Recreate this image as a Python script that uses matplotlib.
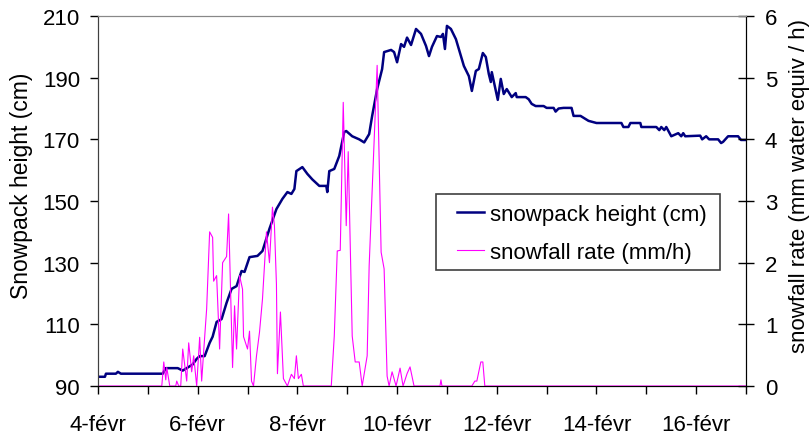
import numpy as np
import matplotlib.pyplot as plt
from matplotlib.patches import Rectangle

plt.rcParams['font.family'] = ['Liberation Sans', 'DejaVu Sans']

# time in days after 4 Feb 00:00
snow_day = [0.00, 0.14, 0.16, 0.36, 0.40, 0.46, 1.30, 1.36, 1.60, 1.70, 1.80, 1.90,
            1.98, 2.04, 2.14, 2.24, 2.30, 2.38, 2.48, 2.58, 2.68, 2.78, 2.88, 2.94,
            3.04, 3.20, 3.30, 3.44, 3.58, 3.70, 3.80, 3.88, 3.94, 3.98, 4.10, 4.20,
            4.30, 4.44, 4.58, 4.60, 4.64, 4.74, 4.84, 4.94, 4.98, 5.10, 5.24, 5.34,
            5.44, 5.50, 5.60, 5.70, 5.74, 5.88, 5.94, 6.00, 6.08, 6.14, 6.20, 6.28,
            6.38, 6.48, 6.58, 6.64, 6.70, 6.80, 6.88, 6.92, 6.96, 7.00, 7.08, 7.18,
            7.34, 7.44, 7.50, 7.58, 7.64, 7.72, 7.78, 7.84, 7.88, 7.90, 7.98, 8.02,
            8.08, 8.14, 8.20, 8.30, 8.38, 8.40, 8.58, 8.64, 8.70, 8.78, 8.94, 9.00,
            9.14, 9.18, 9.24, 9.34, 9.50, 9.54, 9.68, 9.84, 10.00, 10.50, 10.54, 10.64,
            10.68, 10.88, 10.90, 11.20, 11.26, 11.30, 11.36, 11.40, 11.50, 11.64, 11.70, 11.74,
            11.78, 12.08, 12.12, 12.20, 12.26, 12.44, 12.50, 12.54, 12.64, 12.84, 12.90, 12.98]
snow_cm = [93, 93, 94, 94, 94.6, 94, 94, 95.8, 95.8, 95, 96, 97,
           98.8, 99.7, 99.7, 104, 106, 110.8, 111.7, 117, 121.5, 122.4, 127.3, 127,
           131.8, 132.2, 133.8, 141, 147.4, 150.7, 152.9, 152.3, 153.9, 159.7, 161, 158.8,
           157, 154.9, 154.9, 152.9, 159.7, 160.4, 164.6, 172.4, 172.7, 171, 170, 169,
           171.7, 177.6, 186.3, 192.8, 198.3, 199, 198.3, 195, 200.9, 200, 203, 200.6,
           205.8, 204.2, 200.3, 197, 200, 203.5, 203.2, 204.2, 199.3, 206.8, 205.8, 202.5,
           193.8, 190.5, 185.7, 192.2, 192.8, 198, 196.7, 191.2, 188.6, 191.8, 185.7, 182.8,
           189.6, 184.7, 186.3, 183.7, 185, 183.7, 183.7, 183, 181.5, 180.8, 180.8, 180.2,
           180.2, 179, 180, 180.2, 180.2, 177.6, 177.6, 176, 175.3, 175.3, 174, 174,
           175.3, 175.3, 174, 174, 173, 174, 173, 174, 171, 172, 171, 172,
           171, 171.2, 170, 171, 170, 170, 168.8, 169.2, 171, 171, 169.8, 169.8]

rate_day = [0.00, 1.28, 1.32, 1.36, 1.38, 1.42, 1.44, 1.56, 1.58, 1.62, 1.66, 1.70,
            1.78, 1.82, 1.88, 1.92, 1.98, 2.04, 2.08, 2.14, 2.18, 2.24, 2.30, 2.32,
            2.38, 2.44, 2.50, 2.58, 2.62, 2.70, 2.74, 2.78, 2.84, 2.90, 2.92, 3.00,
            3.04, 3.08, 3.12, 3.18, 3.24, 3.30, 3.38, 3.44, 3.50, 3.54, 3.58, 3.60,
            3.66, 3.72, 3.80, 3.88, 3.94, 3.98, 4.02, 4.08, 4.12, 4.68, 4.74, 4.80,
            4.86, 4.92, 4.98, 5.02, 5.10, 5.16, 5.24, 5.30, 5.40, 5.44, 5.60, 5.68,
            5.74, 5.80, 5.84, 5.90, 5.98, 6.06, 6.12, 6.20, 6.26, 6.34, 6.86, 6.88,
            6.90, 7.50, 7.56, 7.60, 7.68, 7.72, 7.76, 13.00]
rate_mm = [0, 0, 0.39, 0.1, 0.3, 0.1, 0, 0, 0.08, 0, 0, 0.6,
           0.08, 0.7, 0.23, 0.49, 0, 0.79, 0.08, 0.79, 1.25, 2.5, 2.41, 1.7,
           1.79, 0.6, 2.0, 2.1, 2.79, 0.3, 1.3, 0.6, 1.79, 1.57, 0.8, 0.6,
           0.89, 0.08, 0, 0.49, 0.87, 1.41, 2.5, 2.0, 2.9, 2.6, 1.65, 0.2,
           1.2, 0.12, 0, 0.19, 0.12, 0.49, 0.12, 0.19, 0, 0, 0.81, 2.19,
           2.2, 4.6, 2.6, 3.8, 0.81, 0.39, 0.39, 0, 0.49, 1.95, 5.2, 2.17,
           1.9, 0.16, 0, 0.23, 0, 0.29, 0, 0.2, 0.31, 0, 0, 0.1,
           0, 0, 0.08, 0.08, 0.39, 0.39, 0, 0]

tick_days = np.arange(0, 14)
tick_labels = ['4-févr', '', '6-févr', '', '8-févr', '', '10-févr', '',
               '12-févr', '', '14-févr', '', '16-févr', '']

fig = plt.figure(figsize=(8.11, 4.35), dpi=100)
ax = fig.add_axes([0.1208, 0.1103, 0.7991, 0.8506])
ax2 = ax.twinx()

l1, = ax.plot(snow_day, snow_cm, color='#000080', lw=1.8, label='snowpack height (cm)')
l2, = ax2.plot(rate_day, rate_mm, color='#FF00FF', lw=0.8, label='snowfall rate (mm/h)')

ax.set_xlim(0, 13)
ax.set_ylim(90, 210)
ax.set_yticks(np.arange(90, 211, 20))
ax2.set_ylim(0, 6)
ax2.set_yticks(np.arange(0, 7, 1))
ax.set_xticks(tick_days)
ax.set_xticklabels(tick_labels)

fs = 16
ax.tick_params(axis='x', direction='out', length=6, width=1, pad=14, labelsize=fs)
ax.tick_params(axis='y', direction='out', length=6, width=1, pad=7, labelsize=fs)
ax2.tick_params(axis='y', direction='inout', length=11, width=1, pad=8, labelsize=fs)

for a in (ax, ax2):
    a.spines['top'].set_color('#888888')
    a.spines['left'].set_color('#404040')
    a.spines['bottom'].set_color('black')
    a.spines['right'].set_color('black')

ax.set_ylabel('Snowpack height (cm)', fontsize=16.5)
ax.yaxis.set_label_coords(-0.100, 0.543)
ax2.set_ylabel('snowfall rate (mm water equiv / h)', fontsize=16)
ax2.yaxis.set_label_coords(1.067, 0.543)

# legend box
ax2.add_patch(Rectangle((0.5216, 0.3135), 0.4383, 0.2054, transform=ax2.transAxes,
                        facecolor='white', edgecolor='#404040', lw=1.2, zorder=5))
leg = ax2.legend(handles=[l1, l2], loc='upper left', bbox_to_anchor=(0.5540, 0.4915),
                 frameon=False, fontsize=fs, borderpad=0, handlelength=1.2,
                 handletextpad=0.3, labelspacing=0.77, borderaxespad=0)
leg.set_zorder(6)

fig.savefig('out.png', dpi=100)
